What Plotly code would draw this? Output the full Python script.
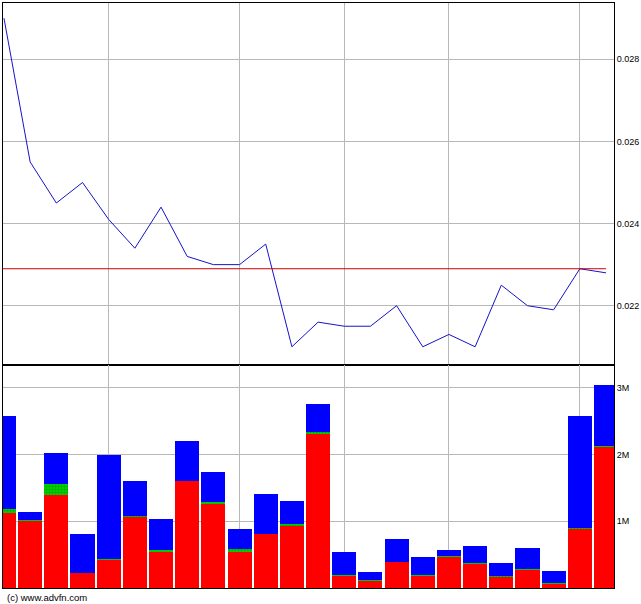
import plotly.graph_objects as go

# ---- data ----
idx = list(range(24))
price = [0.0290, 0.0255, 0.0245, 0.0250, 0.0241, 0.0234, 0.0244, 0.0232, 0.0230, 0.0230,
         0.0235, 0.0210, 0.0216, 0.0215, 0.0215, 0.0220, 0.0210, 0.0213, 0.0210, 0.0225,
         0.0220, 0.0219, 0.0229, 0.0228]
prev_close = 0.0229

# volumes in millions of shares
vol_red = [1.13, 1.01, 1.40, 0.23, 0.43, 1.07, 0.54, 1.60, 1.26, 0.54, 0.81, 0.94,
           2.32, 0.18, 0.11, 0.39, 0.18, 0.47, 0.36, 0.17, 0.27, 0.06, 0.89, 2.12]
vol_green = [0.05, 0.015, 0.16, 0.0, 0.01, 0.015, 0.03, 0.0, 0.03, 0.05, 0.0, 0.015,
             0.015, 0.015, 0.01, 0.0, 0.015, 0.015, 0.015, 0.015, 0.015, 0.015, 0.015, 0.015]
vol_blue = [1.40, 0.115, 0.46, 0.58, 1.55, 0.515, 0.46, 0.60, 0.45, 0.29, 0.60, 0.345,
            0.425, 0.345, 0.12, 0.34, 0.265, 0.085, 0.255, 0.185, 0.315, 0.175, 1.675, 0.905]

week_lines = [4, 9, 13, 17, 22]
price_ticks = [0.022, 0.024, 0.026, 0.028]
price_ticktext = ["0.022", "0.024", "0.026", "0.028"]
vol_ticks = [1, 2, 3]
vol_ticktext = ["1M", "2M", "3M"]

GRID = "#b8b8b8"
FONT = dict(family="Liberation Sans, Arial, sans-serif", size=9, color="#000000")
XR = [-0.038, 23.306]

fig = go.Figure()
fig.add_trace(go.Scatter(x=idx, y=price, mode="lines", line=dict(color="#1414c8", width=1),
                         xaxis="x", yaxis="y", showlegend=False, hoverinfo="skip"))
fig.add_trace(go.Bar(x=idx, y=vol_red, marker=dict(color="#ff0000", line=dict(width=0)),
                     xaxis="x2", yaxis="y2", showlegend=False))
fig.add_trace(go.Bar(x=idx, y=vol_green,
                     marker=dict(color="#00cc00", line=dict(width=0),
                                 pattern=dict(shape=".", fgcolor="#007000", size=3, solidity=0.25)),
                     xaxis="x2", yaxis="y2", showlegend=False))
fig.add_trace(go.Bar(x=idx, y=vol_blue, marker=dict(color="#0000ff", line=dict(width=0)),
                     xaxis="x2", yaxis="y2", showlegend=False))

split = (588 - 365) / 585

axis_common = dict(showline=True, mirror=True, linecolor="#000000", linewidth=1,
                   showgrid=True, gridcolor=GRID, gridwidth=1, zeroline=False,
                   fixedrange=True)

fig.update_layout(
    width=641, height=604,
    margin=dict(l=3, r=27, t=3, b=16, autoexpand=False),
    paper_bgcolor="#ffffff", plot_bgcolor="#ffffff",
    barmode="stack", bargap=0.08,
    font=FONT,
    xaxis=dict(domain=[0, 1], anchor="y", range=XR, tickvals=week_lines,
               showticklabels=False, ticks="", **axis_common),
    yaxis=dict(domain=[split, 1], anchor="x", side="right",
               range=[0.020556, 0.029371], tickvals=price_ticks, ticktext=price_ticktext,
               ticks="", tickfont=FONT, **axis_common),
    xaxis2=dict(domain=[0, 1], anchor="y2", range=XR, tickvals=week_lines,
                showticklabels=False, ticks="", **axis_common),
    yaxis2=dict(domain=[0, split], anchor="x2", side="right",
                range=[0, 3.341], tickvals=vol_ticks, ticktext=vol_ticktext,
                ticks="", tickfont=FONT, **axis_common),
    shapes=[dict(type="line", xref="x", yref="y", x0=XR[0], x1=idx[-1],
                 y0=prev_close, y1=prev_close, line=dict(color="#cc0000", width=1))],
    annotations=[dict(text="(c) www.advfn.com", xref="paper", yref="paper",
                      x=0.0033, y=-(597 - 588) / 585, xanchor="left", yanchor="middle",
                      showarrow=False, font=dict(family="Liberation Sans, Arial, sans-serif",
                                                 size=9.5, color="#000000"))],
)

fig.write_html("out.html", config={"displayModeBar": False},
               post_script="document.body.style.margin='0';document.body.style.overflow='hidden';")
